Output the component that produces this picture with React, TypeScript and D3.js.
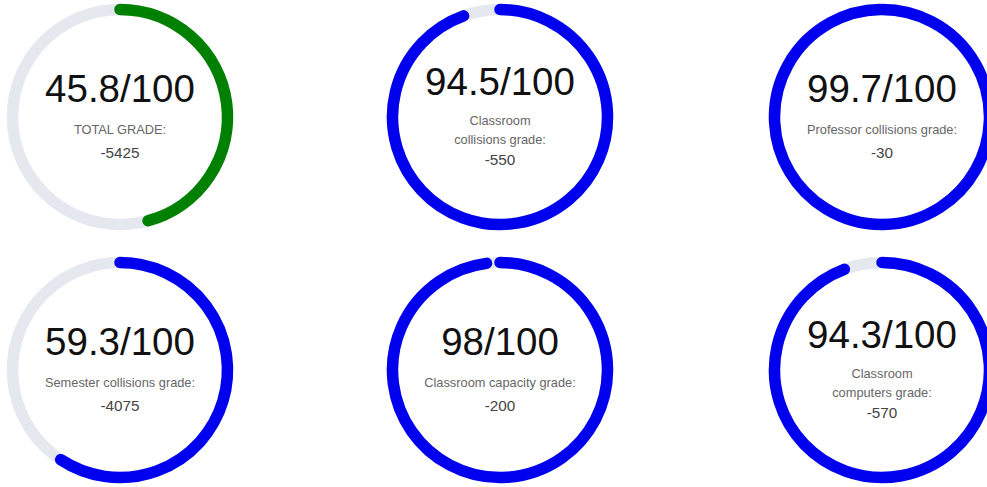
import React from "react";
import * as d3 from "d3";

const scores = [45.8, 94.5, 99.7, 59.3, 98, 94.3];
const labels: string[][] = [
  ["TOTAL GRADE:"],
  ["Classroom", "collisions grade:"],
  ["Professor collisions grade:"],
  ["Semester collisions grade:"],
  ["Classroom capacity grade:"],
  ["Classroom", "computers grade:"],
];
const penalties = [-5425, -550, -30, -4075, -200, -570];
const colors = ["#008000", "#0000ee", "#0000ee", "#0000ee", "#0000ee", "#0000ee"];

const W = 987;
const H = 487;
const colCenters = [120, 500, 882];
const rowCenters = [117, 370];
const midR = 107.5;
const thick = 11.5;

function arcPath(a0: number, a1: number): string {
  const p = d3.path();
  p.arc(0, 0, midR, a0 - Math.PI / 2, a1 - Math.PI / 2, false);
  return p.toString();
}

export default function App() {
  const angle = d3.scaleLinear().domain([0, 100]).range([0, 2 * Math.PI]);

  return (
    <svg
      width={W}
      height={H}
      style={{ position: "absolute", left: 0, top: 0, background: "#fff" }}
      fontFamily="'Liberation Sans', Arial, sans-serif"
    >
      {scores.map((s, i) => {
        const cx = colCenters[i % 3];
        const cy = rowCenters[Math.floor(i / 3)];
        const lines = labels[i];
        const two = lines.length > 1;
        const numY = two ? -22 : -15;
        const labY = two ? 8 : 17;
        const valY = two ? 48 : 41;
        return (
          <g key={i} transform={`translate(${cx},${cy})`}>
            <circle r={midR} fill="none" stroke="#e6e8ef" strokeWidth={thick} />
            <path
              d={arcPath(0, angle(s))}
              fill="none"
              stroke={colors[i]}
              strokeWidth={thick}
              strokeLinecap="round"
            />
            <text y={numY} textAnchor="middle" fontSize={38.5} fill="#111">
              {`${s}/100`}
            </text>
            {lines.map((l, j) => (
              <text
                key={j}
                y={labY + j * 19}
                textAnchor="middle"
                fontSize={12.8}
                fill="#666"
              >
                {l}
              </text>
            ))}
            <text y={valY} textAnchor="middle" fontSize={15.3} fill="#444">
              {penalties[i]}
            </text>
          </g>
        );
      })}
    </svg>
  );
}
